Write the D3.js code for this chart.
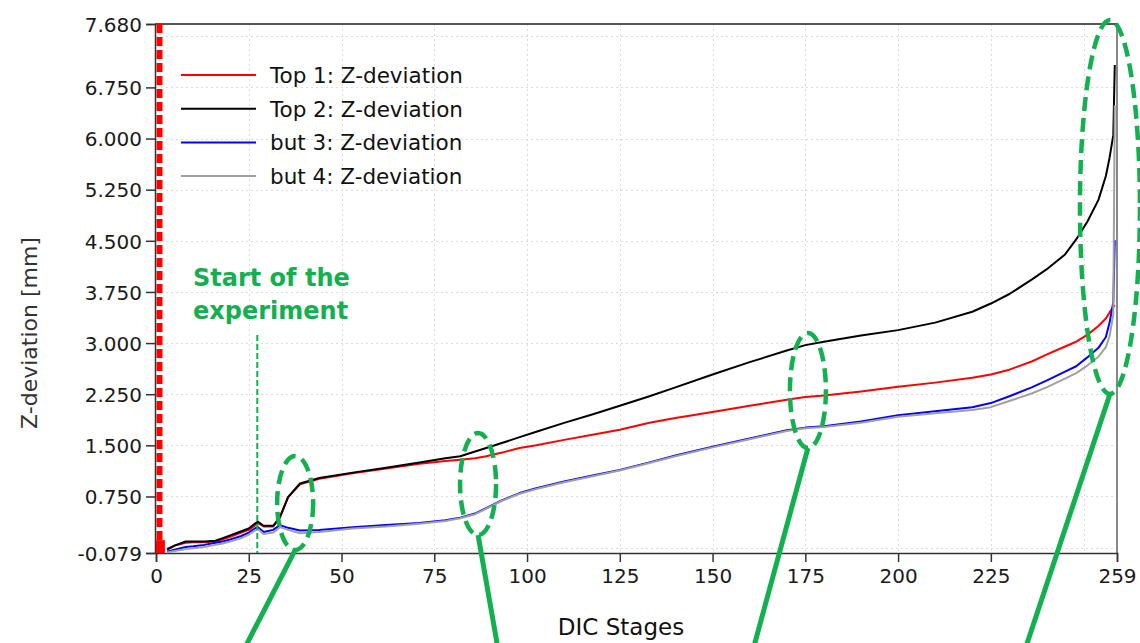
<!DOCTYPE html>
<html>
<head>
<meta charset="utf-8">
<script src="https://cdn.jsdelivr.net/npm/d3@7"></script>
<style>
  body { margin: 0; background: #fff; }
  svg { display: block; font-family: "DejaVu Sans", Verdana, sans-serif; }
</style>
</head>
<body>
<div id="chart"></div>
<script>
var stages = [3, 5, 8, 10, 13, 16, 18, 20, 23, 25, 26.6, 27.5, 29, 31.6, 33.4, 35.6, 38.8, 44, 53, 62,
              71, 78, 82, 86, 89, 93, 98, 102.5, 110, 118, 125, 133, 140, 150, 160, 170, 175, 180, 190, 200,
              210, 220, 225, 230, 236, 240, 245, 248, 251, 254, 256, 257, 258, 258.4];

var top1 = [-0.02, 0.03, 0.07, 0.08, 0.08, 0.09, 0.12, 0.16, 0.22, 0.26, 0.32, 0.36, 0.31, 0.31, 0.44, 0.74, 0.93, 1.01, 1.09, 1.16,
            1.23, 1.27, 1.29, 1.31, 1.34, 1.39, 1.46, 1.50, 1.58, 1.66, 1.73, 1.83, 1.90, 1.99, 2.08, 2.17, 2.21, 2.23, 2.29, 2.36,
            2.42, 2.49, 2.54, 2.61, 2.73, 2.83, 2.95, 3.02, 3.12, 3.25, 3.36, 3.45, 3.53, 3.56];

var top2 = [-0.03, 0.03, 0.09, 0.09, 0.09, 0.10, 0.14, 0.18, 0.24, 0.28, 0.35, 0.38, 0.32, 0.32, 0.45, 0.74, 0.94, 1.02, 1.10, 1.17,
            1.25, 1.31, 1.34, 1.41, 1.46, 1.53, 1.62, 1.70, 1.83, 1.96, 2.08, 2.22, 2.35, 2.54, 2.72, 2.89, 2.97, 3.02, 3.11, 3.19,
            3.30, 3.46, 3.58, 3.72, 3.93, 4.08, 4.30, 4.52, 4.78, 5.10, 5.45, 5.72, 6.05, 7.08];

var but3 = [-0.06, -0.03, 0.01, 0.02, 0.04, 0.07, 0.09, 0.12, 0.17, 0.22, 0.28, 0.30, 0.23, 0.26, 0.33, 0.29, 0.25, 0.26, 0.30, 0.33,
            0.36, 0.40, 0.44, 0.50, 0.58, 0.69, 0.80, 0.87, 0.97, 1.06, 1.14, 1.25, 1.35, 1.48, 1.60, 1.72, 1.76, 1.78, 1.85, 1.94,
            2.00, 2.06, 2.12, 2.22, 2.35, 2.45, 2.58, 2.66, 2.79, 2.93, 3.09, 3.30, 3.60, 4.51];

var but4 = [-0.07, -0.05, -0.02, -0.01, 0.01, 0.04, 0.06, 0.09, 0.14, 0.19, 0.25, 0.27, 0.20, 0.22, 0.30, 0.26, 0.21, 0.23, 0.28, 0.31,
            0.35, 0.39, 0.43, 0.49, 0.57, 0.68, 0.79, 0.86, 0.96, 1.05, 1.13, 1.24, 1.34, 1.47, 1.59, 1.71, 1.75, 1.77, 1.83, 1.92,
            1.97, 2.02, 2.06, 2.15, 2.26, 2.35, 2.48, 2.56, 2.67, 2.80, 2.94, 3.10, 3.42, 6.49];

var seriesNames = ["Top 1: Z-deviation", "Top 2: Z-deviation", "but 3: Z-deviation", "but 4: Z-deviation"];
var seriesColors = ["#ff0000", "#000000", "#0000ff", "#a0a0a0"];

var xTicks = [0, 25, 50, 75, 100, 125, 150, 175, 200, 225, 259];
var xGrid = [25, 50, 75, 100, 125, 150, 175, 200, 225, 250];
var yTicks = [-0.079, 0.75, 1.5, 2.25, 3, 3.75, 4.5, 5.25, 6, 6.75, 7.68];
var yTickLabels = ["-0.079", "0.750", "1.500", "2.250", "3.000", "3.750", "4.500", "5.250", "6.000", "6.750", "7.680"];
var yGrid = [0, 0.75, 1.5, 2.25, 3, 3.75, 4.5, 5.25, 6, 6.75, 7.5];

// annotation callouts (centre in stage / value units)
var startStage = 27.3;
var calloutStage = [37.5, 86.8, 175.7, 257.1];
var calloutValue = [0.654, 0.933, 2.304, 4.996];
var calloutEndStage = [24.6, 91.9, 161.4, 234.8];

function init() {
    var w = 1140, h = 643;
    var left = 156, right = 1117, top = 24, bottom = 553;
    var green = "#12b04f";

    var x = d3.scaleLinear().domain([0, 259]).range([left, right]);
    var y = d3.scaleLinear().domain([-0.079, 7.68]).range([bottom, top]);

    var svg = d3.select("#chart").append("svg")
        .attr("width", w).attr("height", h);

    // dotted grid
    svg.append("g").selectAll("line").data(yGrid).enter().append("line")
        .attr("x1", left).attr("x2", right)
        .attr("y1", function(d) { return Math.round(y(d)) + 0.5; })
        .attr("y2", function(d) { return Math.round(y(d)) + 0.5; })
        .attr("stroke", "#dcdcdc").attr("stroke-dasharray", "2,3");
    svg.append("g").selectAll("line").data(xGrid).enter().append("line")
        .attr("y1", top).attr("y2", bottom)
        .attr("x1", function(d) { return Math.round(x(d)) + 0.5; })
        .attr("x2", function(d) { return Math.round(x(d)) + 0.5; })
        .attr("stroke", "#dcdcdc").attr("stroke-dasharray", "2,3");

    // frame top and right
    svg.append("line").attr("x1", left - 1).attr("x2", right).attr("y1", top).attr("y2", top)
        .attr("stroke", "#555").attr("stroke-width", 2);
    svg.append("line").attr("x1", right).attr("x2", right).attr("y1", top).attr("y2", bottom)
        .attr("stroke", "#888").attr("stroke-width", 2);

    // axes
    var xAxis = d3.axisBottom(x).tickValues(xTicks).tickSize(9).tickPadding(6);
    var gx = svg.append("g").attr("transform", "translate(0," + bottom + ")").call(xAxis);
    var yAxis = d3.axisLeft(y).tickValues(yTicks).tickSize(9).tickPadding(4)
        .tickFormat(function(d, i) { return yTickLabels[i]; });
    var gy = svg.append("g").attr("transform", "translate(" + (left - 1) + ",0)").call(yAxis);
    [gx, gy].forEach(function(g) {
        g.select(".domain").attr("stroke", "#333").attr("stroke-width", 1.5);
        g.selectAll(".tick line").attr("stroke", "#333").attr("stroke-width", 1.5);
        g.selectAll("text").attr("font-size", 20).attr("fill", "#1a1a1a")
            .attr("font-family", "DejaVu Sans, Verdana, sans-serif");
    });
    gx.selectAll("text").attr("dy", "0.75em");
    gy.selectAll("text").attr("dy", "0.36em");

    // axis titles
    svg.append("text").attr("x", 621).attr("y", 635).attr("text-anchor", "middle")
        .attr("font-size", 23).attr("fill", "#111").text("DIC Stages");
    svg.append("text").attr("transform", "translate(37,333) rotate(-90)")
        .attr("text-anchor", "middle").attr("font-size", 22).attr("fill", "#333")
        .text("Z-deviation [mm]");

    // red current-stage marker on the left
    svg.append("line").attr("x1", left + 3.5).attr("x2", left + 3.5).attr("y1", top).attr("y2", bottom)
        .attr("stroke", "#ff0000").attr("stroke-width", 6).attr("stroke-dasharray", "9,4");
    svg.append("rect").attr("x", x(0)).attr("y", y(0.11))
        .attr("width", x(2.4) - x(0)).attr("height", y(-0.079) - y(0.11))
        .attr("fill", "#ff0000");

    // series lines
    var line = d3.line()
        .x(function(d) { return x(d[0]); })
        .y(function(d) { return y(d[1]); });
    [top1, top2, but3, but4].forEach(function(vals, k) {
        var pts = stages.map(function(s, i) { return [s, vals[i]]; });
        svg.append("path").datum(pts)
            .attr("fill", "none")
            .attr("stroke", seriesColors[k])
            .attr("stroke-width", 2)
            .attr("stroke-linejoin", "round")
            .attr("d", line);
    });

    // legend
    var lg = svg.append("g").selectAll("g").data(seriesNames).enter().append("g")
        .attr("transform", function(d, i) { return "translate(181," + (75 + i * 33.7) + ")"; });
    lg.append("line").attr("x1", 0).attr("x2", 75)
        .attr("stroke", function(d, i) { return seriesColors[i]; }).attr("stroke-width", 2);
    lg.append("text").attr("x", 89).attr("y", 8).attr("font-size", 21.5).attr("fill", "#111")
        .text(function(d) { return d; });

    // start-of-experiment annotation
    svg.append("line").attr("x1", x(startStage)).attr("x2", x(startStage))
        .attr("y1", 335).attr("y2", bottom)
        .attr("stroke", green).attr("stroke-width", 2).attr("stroke-dasharray", "6,3");
    var st = svg.append("text").attr("font-size", 24).attr("font-weight", "bold").attr("fill", green);
    st.append("tspan").attr("x", 193).attr("y", 286).text("Start of the");
    st.append("tspan").attr("x", 193).attr("y", 319).text("experiment");

    // dashed callout ellipses with leader lines
    var rxs = [18, 18, 18, 30], rys = [47, 51, 57.5, 187];
    calloutStage.forEach(function(s, i) {
        var cx = x(s), cy = y(calloutValue[i]);
        svg.append("ellipse").attr("cx", cx).attr("cy", cy)
            .attr("rx", rxs[i]).attr("ry", rys[i])
            .attr("fill", "none").attr("stroke", green)
            .attr("stroke-width", 4.5).attr("stroke-dasharray", "14,7");
        var x0 = cx, y0 = cy + rys[i], x1 = x(calloutEndStage[i]), y1 = 643;
        var k = (x1 - x0) / (y1 - y0);
        svg.append("line").attr("x1", x0).attr("y1", y0)
            .attr("x2", x0 + k * (660 - y0)).attr("y2", 660)
            .attr("stroke", green).attr("stroke-width", 5);
    });
}

window.onload = init;
</script>
</body>
</html>
